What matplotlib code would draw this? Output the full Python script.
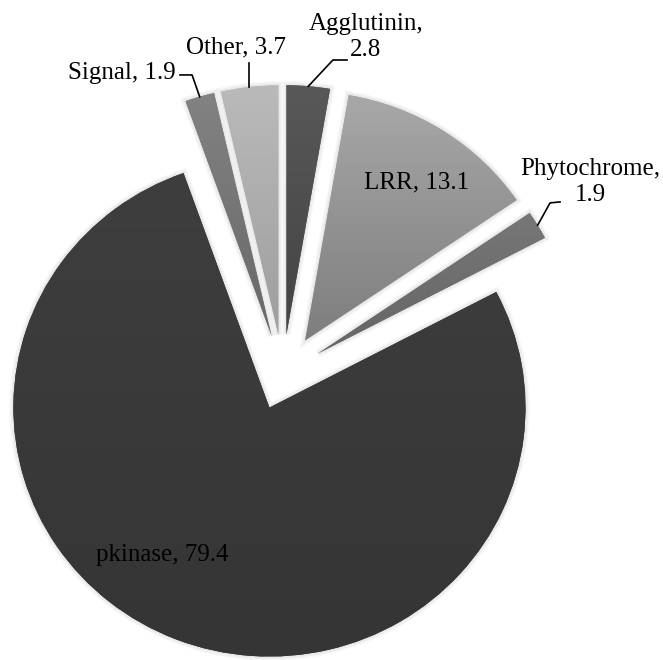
import matplotlib.pyplot as plt
import matplotlib.patheffects as pe
import numpy as np
from matplotlib.colors import LinearSegmentedColormap

# slices, clockwise from 12 o'clock
labels = ["Agglutinin", "LRR", "Phytochrome", "pkinase", "Signal", "Other"]
values = [2.8, 13.1, 1.9, 79.4, 1.9, 3.7]
explode = [0.16, 0.16, 0.16, 0.145, 0.16, 0.16]
top_colors = ["#585858", "#a8a8a8", "#777777", "#3e3e3e", "#828282", "#bababa"]
bottom_colors = ["#444444", "#7e7e7e", "#656565", "#353535", "#686868", "#9e9e9e"]

plt.rcParams['font.family'] = ['Liberation Serif', 'DejaVu Serif']

fig = plt.figure(figsize=(6.63, 6.60), dpi=100)
ax = fig.add_axes([0, 0, 1, 1])

# soft halo round the slices
halo = [pe.Stroke(linewidth=lw, foreground="black", alpha=0.03) for lw in (6, 4, 2)]
wedges, _ = ax.pie(values, explode=explode, startangle=90, counterclock=False,
                   colors=top_colors, radius=1,
                   wedgeprops=dict(linewidth=0, path_effects=halo + [pe.Normal()]))

# vertical shading inside each slice
for w, c_top, c_bot in zip(wedges, top_colors, bottom_colors):
    v = w.get_path().vertices
    cmap = LinearSegmentedColormap.from_list("g", [c_bot, c_top])
    grad = np.linspace(0, 1, 256).reshape(-1, 1)
    im = ax.imshow(grad, cmap=cmap, origin="lower", aspect="auto",
                   extent=(v[:, 0].min(), v[:, 0].max(), v[:, 1].min(), v[:, 1].max()),
                   zorder=w.get_zorder() + 0.1)
    im.set_clip_path(w)

ax.set_aspect("auto")
ax.set_xlim(-1.105, 1.484)
ax.set_ylim(-1.149, 1.502)
ax.axis("off")


def outer_point(w):
    mid = np.deg2rad((w.theta1 + w.theta2) / 2)
    cx, cy = w.center
    return cx + w.r * np.cos(mid), cy + w.r * np.sin(mid)


fs = 18
vals = dict(zip(labels, values))
wd = dict(zip(labels, wedges))

# Agglutinin
x0, y0 = outer_point(wd["Agglutinin"])
ax.plot([x0, 0.195, 0.25], [y0, 1.261, 1.261], color="black", lw=1.2)
ax.text(0.324, 1.353, "Agglutinin,\n%.1f" % vals["Agglutinin"], ha="center", va="center",
        fontsize=fs, linespacing=1.2)

# Other
x0, y0 = outer_point(wd["Other"])
ax.plot([x0, x0], [y0, 1.249], color="black", lw=1.2)
ax.text(-0.184, 1.313, "Other, %.1f" % vals["Other"], ha="center", va="center", fontsize=fs)

# Signal
x0, y0 = outer_point(wd["Signal"])
ax.plot([x0, -0.355, -0.402], [y0, 1.201, 1.201], color="black", lw=1.2)
ax.text(-0.418, 1.209, "Signal, %.1f" % vals["Signal"], ha="right", va="center", fontsize=fs)

# Phytochrome
x0, y0 = outer_point(wd["Phytochrome"])
ax.plot([x0, 1.043, 1.082], [y0, 0.687, 0.691], color="black", lw=1.2)
ax.text(1.199, 0.771, "Phytochrome,\n%.1f" % vals["Phytochrome"], ha="center", va="center",
        fontsize=fs, linespacing=1.2)

# inside labels
ax.text(0.523, 0.771, "LRR, %.1f" % vals["LRR"], ha="center", va="center", fontsize=fs)
ax.text(-0.473, -0.727, "pkinase, %.1f" % vals["pkinase"], ha="center", va="center", fontsize=fs)

fig.savefig("out.png", dpi=100, facecolor="white")
